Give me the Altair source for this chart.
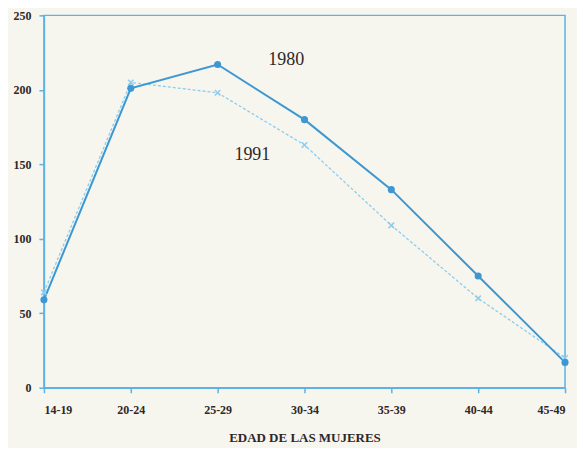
import json
import altair as alt
import pandas as pd

categories = ["14-19", "20-24", "25-29", "30-34", "35-39", "40-44", "45-49"]
values_1980 = [59, 201, 217, 180, 133, 75, 17]
values_1991 = [64, 205, 198, 163, 109, 60, 20]
label_names = ["1980", "1991"]
label_x = [2.79, 2.40]
label_y = [220, 156]

rows = []
for i, c in enumerate(categories):
    rows.append({"idx": i, "cat": c, "serie": "1980", "v": values_1980[i]})
    rows.append({"idx": i, "cat": c, "serie": "1991", "v": values_1991[i]})
df = pd.DataFrame(rows)
df80 = df[df.serie == "1980"]
df91 = df[df.serie == "1991"]
lab = pd.DataFrame({"t": label_names, "x": label_x, "y": label_y})

AX = "#5cb3e4"
C80 = "#3d98d2"
C91 = "#8ccdf0"
FONT = "Liberation Serif"
TXT = "#2e2828"

xscale = alt.Scale(domain=[0, 6], nice=False, zero=False)
yscale = alt.Scale(domain=[0, 250], nice=False)

xaxis = alt.Axis(values=list(range(len(categories))),
                 labelExpr=f"{json.dumps(categories)}[datum.value]",
                 title="EDAD DE LAS MUJERES", grid=False,
                 domainColor=AX, domainWidth=1.5, tickColor=AX, tickWidth=1.5,
                 tickSize=5, labelPadding=12, labelFont=FONT, labelFontSize=12,
                 labelFontWeight="bold", labelColor=TXT,
                 titleFont=FONT, titleFontSize=13, titleFontWeight="bold",
                 titleColor=TXT, titlePadding=16)
yaxis = alt.Axis(values=[0, 50, 100, 150, 200, 250], title=None, grid=False,
                 domainColor=AX, domainWidth=1.5, tickColor=AX, tickWidth=1.5,
                 tickSize=5, labelPadding=8, labelFont=FONT, labelFontSize=12,
                 labelFontWeight="bold", labelColor=TXT)

base_x = alt.X("idx:Q", scale=xscale, axis=xaxis)
base_y = alt.Y("v:Q", scale=yscale, axis=yaxis)

l80 = alt.Chart(df80).mark_line(color=C80, strokeWidth=2).encode(x=base_x, y=base_y)
p80 = alt.Chart(df80).mark_point(color=C80, filled=True, size=50, opacity=1).encode(x="idx:Q", y="v:Q")
l91 = alt.Chart(df91).mark_line(color=C91, strokeWidth=1.3, strokeDash=[3, 2]).encode(x="idx:Q", y="v:Q")
p91 = alt.Chart(df91).mark_point(color=C91, shape="M-1,-1L1,1M1,-1L-1,1", size=30,
                                 strokeWidth=1.5, filled=False, opacity=1).encode(x="idx:Q", y="v:Q")
txt = alt.Chart(lab).mark_text(font=FONT, fontSize=18, color=TXT).encode(
    x="x:Q", y="y:Q", text="t:N")

chart = alt.layer(l91, l80, p91, p80, txt).properties(
    width=522, height=373,
    autosize=alt.AutoSizeParams(type="none"),
    padding={"left": 36, "top": 7, "right": 12, "bottom": 60},
    background="#f6f5ee",
).configure_view(stroke=AX, strokeWidth=1.5)

chart.save("out.html", embed_options={"renderer": "svg", "actions": False})
